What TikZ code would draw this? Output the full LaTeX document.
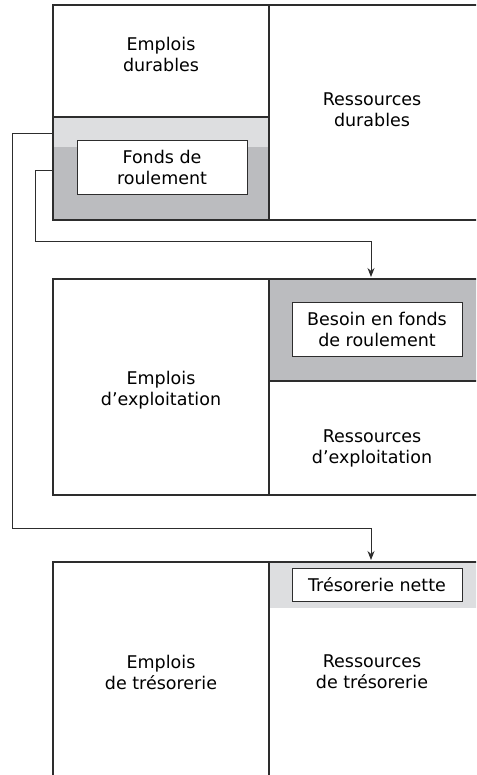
\documentclass[tikz,border=0pt]{standalone}
\usepackage{fontspec}
\setmainfont{DejaVu Sans}
\usetikzlibrary{positioning}
\usetikzlibrary{arrows.meta}

\definecolor{darkgrey}{RGB}{187,188,191}
\definecolor{lightgrey}{RGB}{221,222,224}
\definecolor{linegrey}{RGB}{45,45,45}

\begin{document}
\begin{tikzpicture}[x=1pt,y=-1pt,
  txt/.style={align=center,font=\fontsize{17.5}{21}\selectfont},
  inbox/.style={txt,draw=linegrey,fill=white,line width=0.9pt,inner sep=0pt,minimum width=170pt},
  block/.style={draw=linegrey,line width=1.3pt},
  link/.style={draw=linegrey,line width=0.9pt,-{Stealth[length=9pt,width=7pt]}}]
\useasboundingbox (0,0) rectangle (476,775);
\clip (0,0) rectangle (476,775);

% fonds de roulement
\fill[lightgrey] (53,117) rectangle (269,147);
\fill[darkgrey] (53,147) rectangle (269,220);
\draw[block] (53,5) rectangle (490,220);
\draw[block] (269,5) -- (269,220);
\draw[block] (53,117) -- (269,117);
\node[txt] (ed) at (161,54) {Emplois\\durables};
\node[txt] (rd) at (372,110) {Ressources\\durables};
\node[inbox,minimum height=54pt] (fr) at (162,167) {Fonds de\\roulement};

% besoin en fonds de roulement
\fill[darkgrey] (269,279) rectangle (490,381);
\draw[block] (53,279) rectangle (490,495);
\draw[block] (269,279) -- (269,495);
\draw[block] (269,381) -- (490,381);
\node[txt] (ee) at (161,390) {Emplois\\d’exploitation};
\node[txt] (re) at (372,448) {Ressources\\d’exploitation};
\node[inbox,minimum height=54pt] (bfr) at (377,329) {Besoin en fonds\\de roulement};

% tresorerie nette
\fill[lightgrey] (269,562) rectangle (490,608);
\draw[block] (53,790) -- (53,562) -- (490,562);
\draw[block] (269,562) -- (269,790);
\node[txt] (et) at (161,672) {Emplois\\de trésorerie};
\node[txt] (rt) at (372,672) {Ressources\\de trésorerie};
\node[inbox,minimum height=33pt] (tn) at (377,584.5) {Trésorerie nette};

% liens
\coordinate (fra) at (53,170);
\coordinate (frb) at (53,133);
\coordinate (bfrtop) at (371,277);
\coordinate (tntop) at (371,560);
\draw[link] (fra) -- (35,170) -- (35,241) -- (371,241) -- (bfrtop);
\draw[link] (frb) -- (12,133) -- (12,528) -- (371,528) -- (tntop);

\end{tikzpicture}
\end{document}
